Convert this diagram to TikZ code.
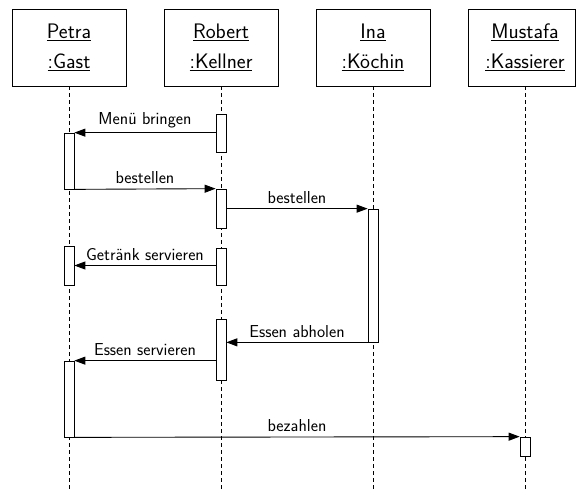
\documentclass[tikz,border=0pt]{standalone}
\usepackage{fontspec}
\usetikzlibrary{arrows.meta}
\begin{document}
\begin{tikzpicture}[x=1pt,y=-1pt,
  font=\sffamily,
  object/.style={draw, line width=0.8pt, minimum width=114pt, minimum height=77pt,
    align=center, font=\sffamily\fontsize{21}{30}\selectfont, inner sep=0pt},
  lifeline/.style={line width=0.6pt, dash pattern=on 4pt off 3pt},
  act/.style={draw, fill=white, line width=0.7pt, minimum width=10pt, inner sep=0pt},
  msg/.style={line width=0.9pt, -{Triangle[length=11pt,width=8pt]}},
  lbl/.style={font=\sffamily\fontsize{17.3}{20}\selectfont, inner sep=2pt, yshift=2.5pt}]
\useasboundingbox (0,0) rectangle (576,491);

% participants
\node[object] (petra)   at (69,47.5)  {\underline{Petra}\\\underline{:Gast}};
\node[object] (robert)  at (221,47.5) {\underline{Robert}\\\underline{:Kellner}};
\node[object] (ina)     at (373,47.5) {\underline{Ina}\\\underline{:Köchin}};
\draw[line width=0.8pt] (468,9) rectangle (575,86);
\node[align=center, font=\sffamily\fontsize{21}{30}\selectfont, inner sep=0pt] (mustafa) at (525,47.5) {\underline{Mustafa}\\\underline{:Kassierer}};

% lifelines
\coordinate (pend) at (69,491);
\coordinate (rend) at (221,491);
\coordinate (iend) at (373,491);
\coordinate (mend) at (525,491);
\coordinate (mtop) at (525,86);
\draw[lifeline] (petra.south) -- (pend);
\draw[lifeline] (robert.south) -- (rend);
\draw[lifeline] (ina.south) -- (iend);
\draw[lifeline] (mtop) -- (mend);

% activation bars
\node[act, minimum height=38pt] (r1) at (221,133) {};
\node[act, minimum height=56pt] (p1) at (69,161) {};
\node[act, minimum height=39pt] (r2) at (221,208.5) {};
\node[act, minimum height=133pt] (i1) at (373,275.5) {};
\node[act, minimum height=37pt] (r3) at (221,266.5) {};
\node[act, minimum height=39pt] (p2) at (69,265.5) {};
\node[act, minimum height=61pt] (r4) at (221,349.5) {};
\node[act, minimum height=76pt] (p3) at (69,399) {};
\node[act, minimum height=19pt] (m1) at (525,446.5) {};

% messages
\draw[msg] (r1.west |- p1.north east) -- node[lbl, above] {Menü bringen} (p1.north east);
\draw[msg] (p1.south east) -- node[lbl, above] {bestellen} (r2.north west);
\draw[msg] (r2.east |- i1.north west) -- node[lbl, above] {bestellen} (i1.north west);
\draw[msg] (r3.west |- p2.east) -- node[lbl, above] {Getränk servieren} (p2.east);
\draw[msg] (i1.south west) -- node[lbl, above] {Essen abholen} (i1.south west -| r4.east);
\draw[msg] (r4.west |- p3.north east) -- node[lbl, above] {Essen servieren} (p3.north east);
\draw[msg] (p3.south east) -- node[lbl, above] {bezahlen} (m1.north west);
\end{tikzpicture}
\end{document}
